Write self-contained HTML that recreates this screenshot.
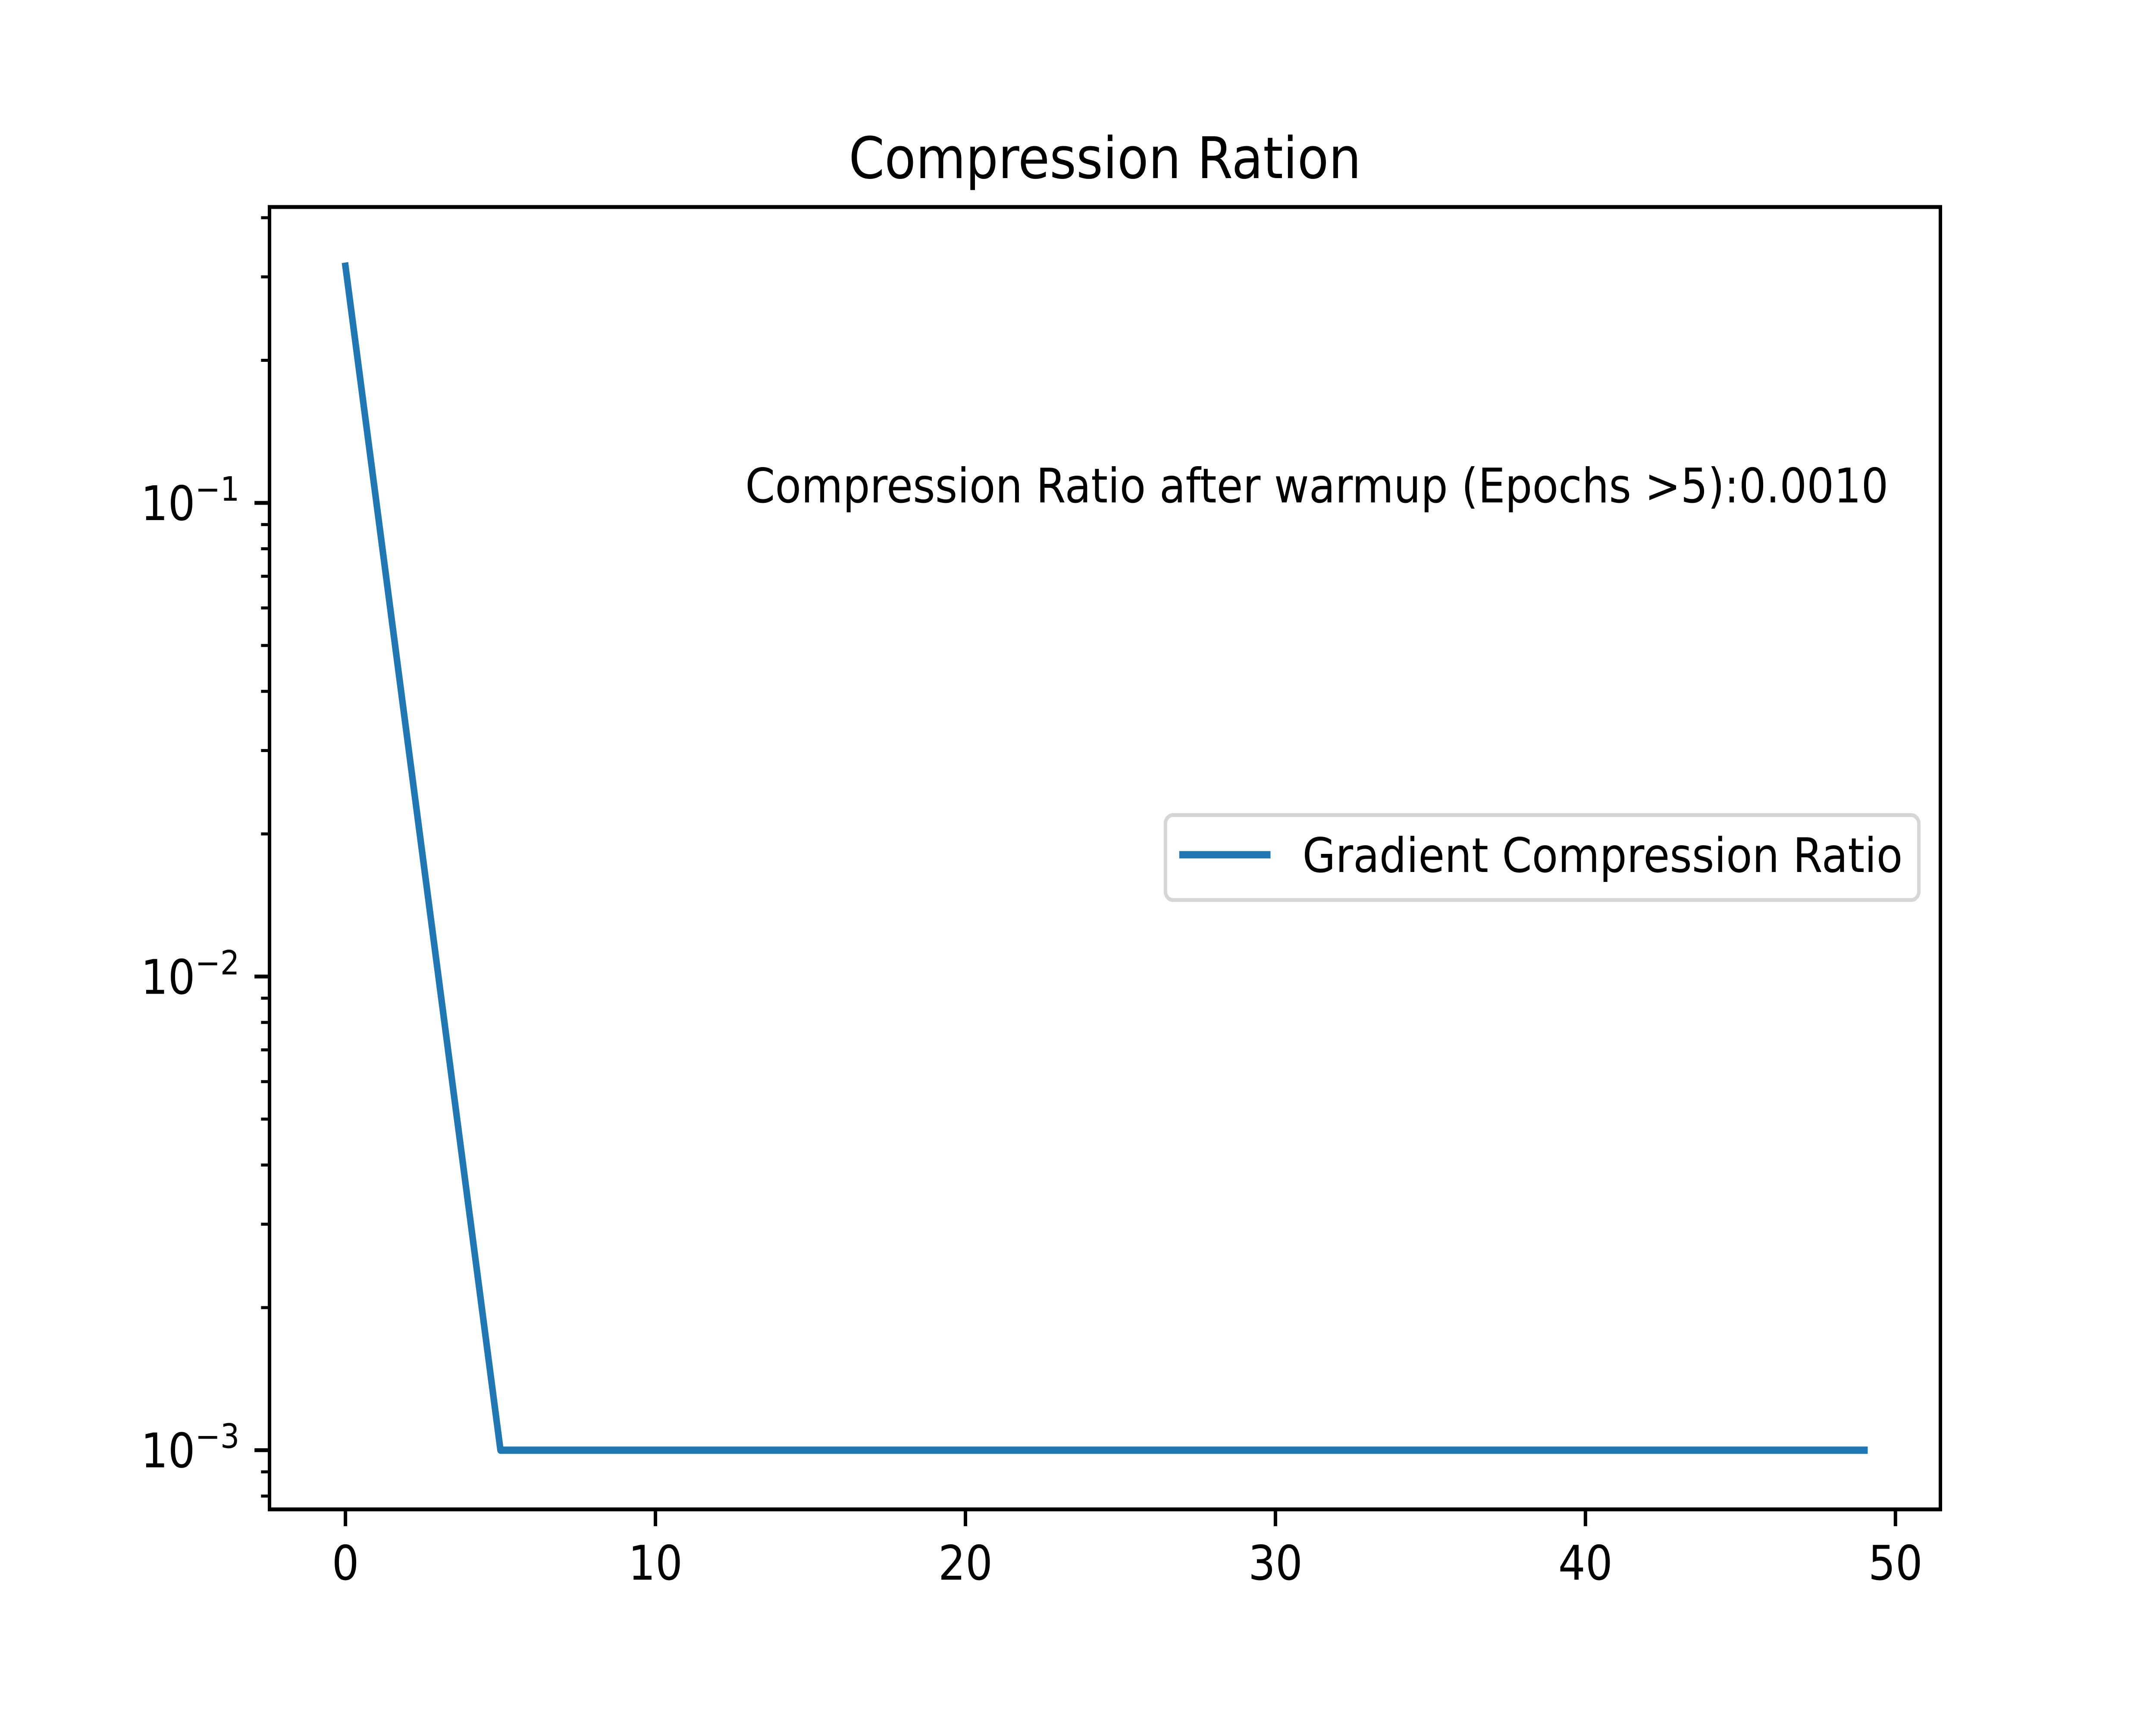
<!DOCTYPE html>
<html><head><meta charset="utf-8"><style>
html,body{margin:0;padding:0;background:#fff;width:100%;height:100%;overflow:hidden}
svg{position:fixed;left:0;top:0;width:100vw;height:100vh;display:block;font-family:"DejaVu Sans","Liberation Sans",sans-serif}
</style></head><body>
<svg id="chart" viewBox="0 0 5600 4000" preserveAspectRatio="none" xmlns="http://www.w3.org/2000/svg">
<rect x="0" y="0" width="5600" height="4000" fill="#fff"/>
<text x="2870" y="413" font-size="133" text-anchor="middle">Compression Ration</text>
<g id="ticks"></g>
<g id="plot"></g>
<rect x="700" y="480" width="4340" height="3020" fill="none" stroke="#000" stroke-width="9"/>
<text x="4905" y="1165" font-size="111" text-anchor="end">Compression Ratio after warmup (Epochs &gt;5):0.0010</text>
<g>
<rect x="3027" y="1890" width="1957" height="197" rx="20" fill="#fff" fill-opacity="0.8" stroke="#d6d6d6" stroke-width="9"/>
<line x1="3063" y1="1982" x2="3300" y2="1982" stroke="#1f77b4" stroke-width="17"/>
<text x="3383" y="2022" font-size="111">Gradient Compression Ratio</text>
</g>
</svg>
<script>
const epochs = [0,1,2,3,4,5,6,7,8,9,10,11,12,13,14,15,16,17,18,19,20,21,22,23,24,25,26,27,28,29,30,31,32,33,34,35,36,37,38,39,40,41,42,43,44,45,46,47,48,49];
const ratios = [0.316,0.1,0.0316,0.01,0.00316,0.001,0.001,0.001,0.001,0.001,0.001,0.001,0.001,0.001,0.001,0.001,0.001,0.001,0.001,0.001,0.001,0.001,0.001,0.001,0.001,0.001,0.001,0.001,0.001,0.001,0.001,0.001,0.001,0.001,0.001,0.001,0.001,0.001,0.001,0.001,0.001,0.001,0.001,0.001,0.001,0.001,0.001,0.001,0.001,0.001];
const xTicks = [0,10,20,30,40,50];
const yMajorExp = [-3,-2,-1];

const NS = "http://www.w3.org/2000/svg";
const L=700,R=5040,T=480,B=3500;
const xmin=Math.min(...epochs),xmax=Math.max(...epochs),xpad=(xmax-xmin)*0.05;
const x0=xmin-xpad,x1=xmax+xpad;
const lmin=Math.log10(Math.min(...ratios)),lmax=Math.log10(Math.max(...ratios)),lpad=(lmax-lmin)*0.05;
const y0=lmin-lpad,y1=lmax+lpad;
function sx(v){return L+(v-x0)/(x1-x0)*(R-L);}
function sy(v){return B-(Math.log10(v)-y0)/(y1-y0)*(B-T);}
function mk(tag,attrs,parent){const e=document.createElementNS(NS,tag);for(const k in attrs)e.setAttribute(k,attrs[k]);parent.appendChild(e);return e;}
const tg=document.getElementById('ticks'),pg=document.getElementById('plot');

xTicks.forEach(t=>{
  const x=sx(t);
  const ln=mk('line',{x1:x,y1:B,x2:x,y2:B+39,stroke:'#000','stroke-width':9},tg);
  
  
  const tx=mk('text',{x:x,y:3663,'font-size':111,'text-anchor':'middle'},tg);
  tx.textContent=String(t);
  
  
});
yMajorExp.forEach(e=>{
  const y=sy(Math.pow(10,e));
  const ln=mk('line',{x1:L-39,y1:y,x2:L,y2:y,stroke:'#000','stroke-width':9},tg);
  
  
  const tx=mk('text',{x:622,y:y+40,'font-size':111,'text-anchor':'end'},tg);
  
  
  const a=mk('tspan',{},tx);a.textContent='10';
  const b=mk('tspan',{'font-size':78,dy:-45},tx);b.textContent='\u2212'+Math.abs(e);
});
for(let e=-4;e<=0;e++){for(let m=2;m<=9;m++){
  const v=m*Math.pow(10,e);const l=Math.log10(v);
  if(l<y0||l>y1)continue;
  const y=sy(v);
  const ln=mk('line',{x1:L-22,y1:y,x2:L,y2:y,stroke:'#000','stroke-width':7},tg);
  
  
}}
const pts=epochs.map((e,i)=>sx(e).toFixed(1)+','+sy(ratios[i]).toFixed(1)).join(' ');
const pl=mk('polyline',{points:pts,fill:'none',stroke:'#1f77b4','stroke-width':17,'stroke-linejoin':'round','stroke-linecap':'square'},pg);


</script>
</body></html>
